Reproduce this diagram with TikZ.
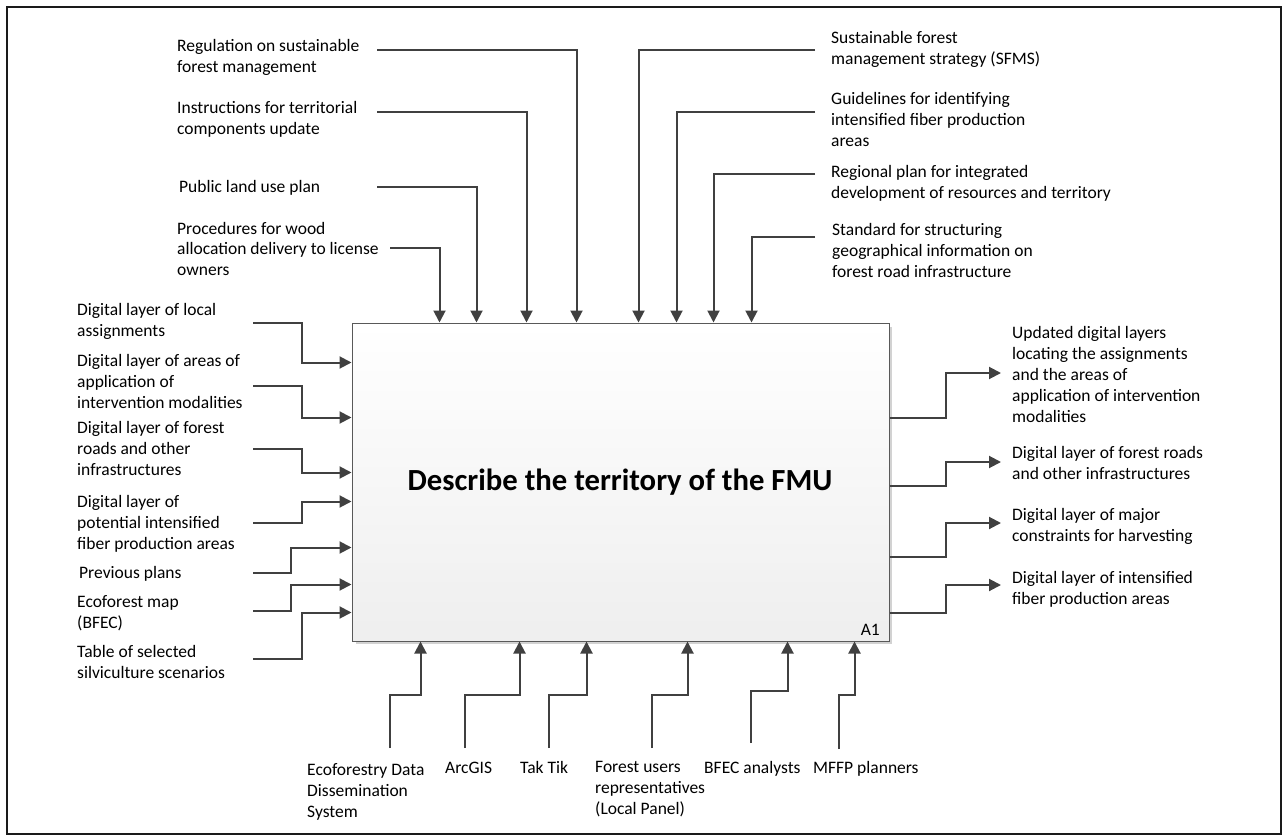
\documentclass[tikz,border=0pt]{standalone}
\usepackage{fontspec}
\setmainfont{Carlito}
\usetikzlibrary{arrows.meta,calc}
\definecolor{wire}{HTML}{404040}
\definecolor{frame}{HTML}{1A1A1A}
\begin{document}
\begin{tikzpicture}[x=1pt,y=-1pt,
  % multi-line labels: the base anchor sits on the last line's baseline
  lbl/.style={anchor=base west, inner sep=0pt, align=left, font=\fontsize{17.5}{21}\selectfont},
  bot/.style={lbl},
  flow/.style={draw=wire, line width=2pt, -{Triangle[length=12pt,width=12pt]}},
  activity/.style={draw=gray!70!black, line width=1pt, top color=white, bottom color=gray!13,
    minimum width=537pt, minimum height=318pt, inner sep=0pt}]
\useasboundingbox (0,0) rectangle (1285,837);
\draw[frame, line width=2.5pt] (7,7) rectangle (1281,834);

% activity box with its shadow
\fill[gray!35] (356,327) rectangle (892,644);
\node[activity] (box) at (620.5,482) {};
\node[font=\fontsize{30.7}{36}\selectfont\bfseries] (title) at (620,482) {Describe the territory of the FMU};
\node[anchor=base east, inner sep=0pt, font=\fontsize{17.5}{21}\selectfont] (code) at (880,635) {A1};

% controls (top)
\node[lbl] (reg) at (177,73) {Regulation on sustainable\\forest management};
\node[lbl] (ins) at (177,135) {Instructions for territorial\\components update};
\node[lbl] (pub) at (179,193) {Public land use plan};
\node[lbl] (pro) at (177,276) {Procedures for wood\\allocation delivery to license\\owners};
\node[lbl] (sfm) at (831,65) {Sustainable forest\\management strategy (SFMS)};
\node[lbl] (gui) at (831,147) {Guidelines for identifying\\intensified fiber production\\areas};
\node[lbl] (rpl) at (831,199) {Regional plan for integrated\\development of resources and territory};
\node[lbl] (std) at (832,277) {Standard for structuring\\geographical information on\\forest road infrastructure};

\coordinate (reg-s) at (377,50);
\coordinate (ins-s) at (377,112);
\coordinate (pub-s) at (377,187);
\coordinate (pro-s) at (390,248);
\coordinate (sfm-s) at (815,50);
\coordinate (gui-s) at (815,112);
\coordinate (rpl-s) at (815,174);
\coordinate (std-s) at (815,237);

\draw[flow] (reg-s) -| ($(box.north west)+(225,0)$);
\draw[flow] (ins-s) -| ($(box.north west)+(175,0)$);
\draw[flow] (pub-s) -| ($(box.north west)+(125,0)$);
\draw[flow] (pro-s) -| ($(box.north west)+(88,0)$);
\draw[flow] (sfm-s) -| ($(box.north west)+(287,0)$);
\draw[flow] (gui-s) -| ($(box.north west)+(325,0)$);
\draw[flow] (rpl-s) -| ($(box.north west)+(362,0)$);
\draw[flow] (std-s) -| ($(box.north west)+(400,0)$);

% inputs (left)
\node[lbl] (loc) at (77,336) {Digital layer of local\\assignments};
\node[lbl] (mod) at (77,408) {Digital layer of areas of\\application of\\intervention modalities};
\node[lbl] (rds) at (77,475) {Digital layer of forest\\roads and other\\infrastructures};
\node[lbl] (pot) at (77,549) {Digital layer of\\potential intensified\\fiber production areas};
\node[lbl] (prv) at (79,578) {Previous plans};
\node[lbl] (eco) at (77,628) {Ecoforest map\\(BFEC)};
\node[lbl] (tab) at (77,678) {Table of selected\\silviculture scenarios};

\coordinate (loc-s) at (253,323);
\coordinate (mod-s) at (253,386);
\coordinate (rds-s) at (253,449);
\coordinate (pot-s) at (253,523);
\coordinate (prv-s) at (253,573);
\coordinate (eco-s) at (253,611);
\coordinate (tab-s) at (253,659);

\draw[flow] (loc-s) -- ++(49,0) |- ($(box.north west)+(0,40)$);
\draw[flow] (mod-s) -- ++(49,0) |- ($(box.north west)+(0,95)$);
\draw[flow] (rds-s) -- ++(49,0) |- ($(box.north west)+(0,150)$);
\draw[flow] (pot-s) -- ++(49,0) |- ($(box.north west)+(0,179)$);
\draw[flow] (prv-s) -- ++(38,0) |- ($(box.north west)+(0,225)$);
\draw[flow] (eco-s) -- ++(38,0) |- ($(box.north west)+(0,262)$);
\draw[flow] (tab-s) -- ++(49,0) |- ($(box.north west)+(0,290)$);

% mechanisms (bottom)
\node[bot] (edd) at (307,817) {Ecoforestry Data\\Dissemination\\System};
\node[bot] (arc) at (445,773) {ArcGIS};
\node[bot] (tak) at (520,773) {Tak Tik};
\node[bot] (fur) at (595,814) {Forest users\\representatives\\(Local Panel)};
\node[bot] (bfe) at (704,773) {BFEC analysts};
\node[bot] (mff) at (813,773) {MFFP planners};

\coordinate (edd-s) at (390,748);
\coordinate (arc-s) at (465,748);
\coordinate (tak-s) at (549,748);
\coordinate (fur-s) at (652,748);
\coordinate (bfe-s) at (751,743);
\coordinate (mff-s) at (839,749);

\draw[flow] (edd-s) -- ++(0,-53) -| ($(box.south west)+(69,0)$);
\draw[flow] (arc-s) -- ++(0,-53) -| ($(box.south west)+(168,0)$);
\draw[flow] (tak-s) -- ++(0,-53) -| ($(box.south west)+(235,0)$);
\draw[flow] (fur-s) -- ++(0,-53) -| ($(box.south west)+(336,0)$);
\draw[flow] (bfe-s) -- ++(0,-52) -| ($(box.south west)+(436,0)$);
\draw[flow] (mff-s) -- ++(0,-54) -| ($(box.south west)+(503,0)$);

% outputs (right)
\node[lbl] (upd) at (1012,422) {Updated digital layers\\locating the assignments\\and the areas of\\application of intervention\\modalities};
\node[lbl] (ord) at (1012,479) {Digital layer of forest roads\\and other infrastructures};
\node[lbl] (maj) at (1012,541) {Digital layer of major\\constraints for harvesting};
\node[lbl] (ifp) at (1012,604) {Digital layer of intensified\\fiber production areas};

\coordinate (upd-e) at (1001,373);
\coordinate (ord-e) at (1001,462);
\coordinate (maj-e) at (1001,523);
\coordinate (ifp-e) at (1001,585);

\draw[flow] ($(box.north east)+(0,95)$) -- ++(56,0) |- (upd-e);
\draw[flow] ($(box.north east)+(0,163)$) -- ++(56,0) |- (ord-e);
\draw[flow] ($(box.north east)+(0,234)$) -- ++(56,0) |- (maj-e);
\draw[flow] ($(box.north east)+(0,290)$) -- ++(56,0) |- (ifp-e);
\end{tikzpicture}
\end{document}
